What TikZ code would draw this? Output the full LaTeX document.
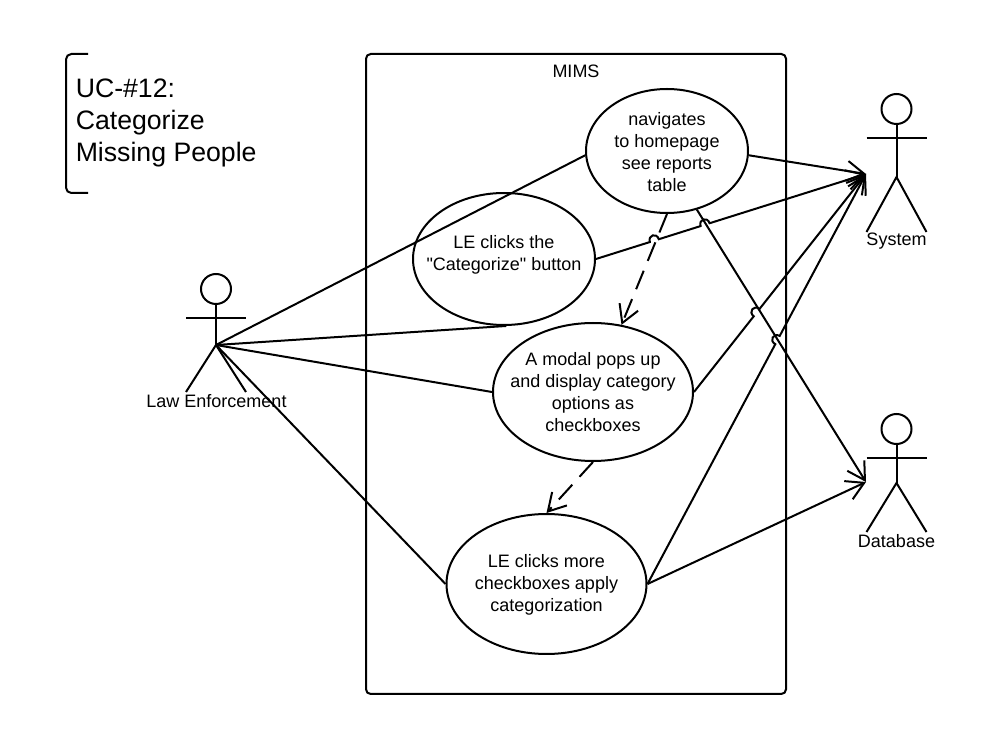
\documentclass[tikz,border=0pt]{standalone}
\usepackage{fontspec}
\setmainfont{Liberation Sans}[Ligatures=TeXOff]
\usetikzlibrary{shapes.geometric,arrows.meta,calc}
\tikzset{
  x=0.75pt,y=-0.75pt,
  ln/.style={line width=1.5pt,black},
  conn/.style={ln,-{Straight Barb[length=13pt,width=15pt,line width=1.5pt]}},
  dashconn/.style={conn,dash pattern=on 15pt off 8pt},
  uc/.style={ellipse,draw,line width=1.5pt,fill=white,inner sep=0pt},
  uctext/.style={align=center,inner sep=0pt,font=\fontsize{13.5}{16.5}\selectfont},
  head/.style={circle,draw,line width=1.5pt,minimum size=22.5pt,inner sep=0pt},
  lbl/.style={font=\fontsize{13.5}{16.5}\selectfont,inner sep=0pt},
}
\newcommand{\actorfig}[5]{% name, x, head y, hip y, foot y
  \node[head] (#1head) at (#2,#3) {};
  \coordinate (#1hip) at (#2,#4);
  \draw[ln] (#1head.south) -- (#1hip);
  \draw[ln] ($(#1head.center)+(-30,29)$) -- ($(#1head.center)+(30,29)$);
  \coordinate (#1footl) at ($(#2,#5)+(-30,0)$);
  \coordinate (#1footr) at ($(#2,#5)+(30,0)$);
  \draw[ln] (#1footl) -- (#1hip) -- (#1footr);
}
\newcommand{\jumpto}[3]{% start, end, jump fraction: path pieces
  -- ($($(#1)!#3!(#2)$)!-3.5pt!(#2)$)
  .. controls ($($($(#1)!#3!(#2)$)!-3.5pt!(#2)$)!5.5pt!90:(#2)$) and ($($($(#1)!#3!(#2)$)!3.5pt!(#2)$)!5.5pt!90:(#2)$) ..
  ($($(#1)!#3!(#2)$)!3.5pt!(#2)$)
}
\begin{document}
\begin{tikzpicture}
\useasboundingbox (0,0) rectangle (1001,748);
\fill[white] (0,0) rectangle (1001,748);
\node[draw,line width=1.5pt,rounded corners=3.5pt,minimum width=315pt,minimum height=480pt,inner sep=0pt] (mims) at (576,374) {};
\node[lbl] (mimslabel) at (576,71.5) {MIMS};
\draw[ln,rounded corners=4pt] (88,54) -- (66,54) -- (66,193) -- (88,193);
\node[anchor=west,align=left,inner sep=0pt,font=\fontsize{20}{24}\selectfont] (title) at (75.5,123) {UC-\#12:\\Categorize\\Missing People};

\node[uc,minimum width=121.5pt,minimum height=93pt] (nav) at (667,151) {};
\node[uctext] (navtext) at (667,152) {navigates\\to homepage\\see reports\\table};
\node[uc,minimum width=136.5pt,minimum height=99pt] (clicks) at (504,259) {};
\node[uctext] (clickstext) at (504,255) {LE clicks the\\"Categorize" button};
\node[uc,minimum width=150pt,minimum height=103.5pt] (modal) at (593,392) {};
\node[uctext] (modaltext) at (593,392.5) {A modal pops up\\and display category\\options as\\checkboxes};
\node[uc,minimum width=150pt,minimum height=105pt] (more) at (546.5,584) {};
\node[uctext] (moretext) at (546.5,584.5) {LE clicks more\\checkboxes apply\\categorization};

\actorfig{le}{216}{289}{345}{392}
\actorfig{sys}{896.5}{109}{177}{232}
\actorfig{db}{896.5}{429}{483}{532}
\node[lbl] (lelabel) at (216.5,401) {Law Enforcement};
\node[lbl] (syslabel) at (896.5,241) {System};
\node[lbl] (dblabel) at (896.5,541) {Database};
\coordinate (syshand) at (866,174);
\coordinate (dbhand) at (866,482);

\draw[ln] (lehip) -- (nav.183);
\draw[ln] (lehip) -- (clicks.-88);
\draw[ln] (lehip) -- (modal.180);
\draw[ln] (lehip) -- (more.180);
\draw[conn] (nav.-3) -- (syshand);
\draw[conn] (nav.-63) -- (dbhand);
\coordinate (cE) at (clicks.0);
\draw[conn] (cE) \jumpto{cE}{syshand}{0.216} \jumpto{cE}{syshand}{0.404} -- (syshand);
\coordinate (mE) at (modal.0);
\draw[conn] (mE) \jumpto{mE}{syshand}{0.364} -- (syshand);
\coordinate (oE) at (more.0);
\draw[conn] (oE) \jumpto{oE}{syshand}{0.595} -- (syshand);
\draw[conn] (oE) -- (dbhand);
\draw[dashconn] (nav.-90) -- (modal.67);
\draw[dashconn] (modal.-90) -- (more.90);
\end{tikzpicture}
\end{document}
